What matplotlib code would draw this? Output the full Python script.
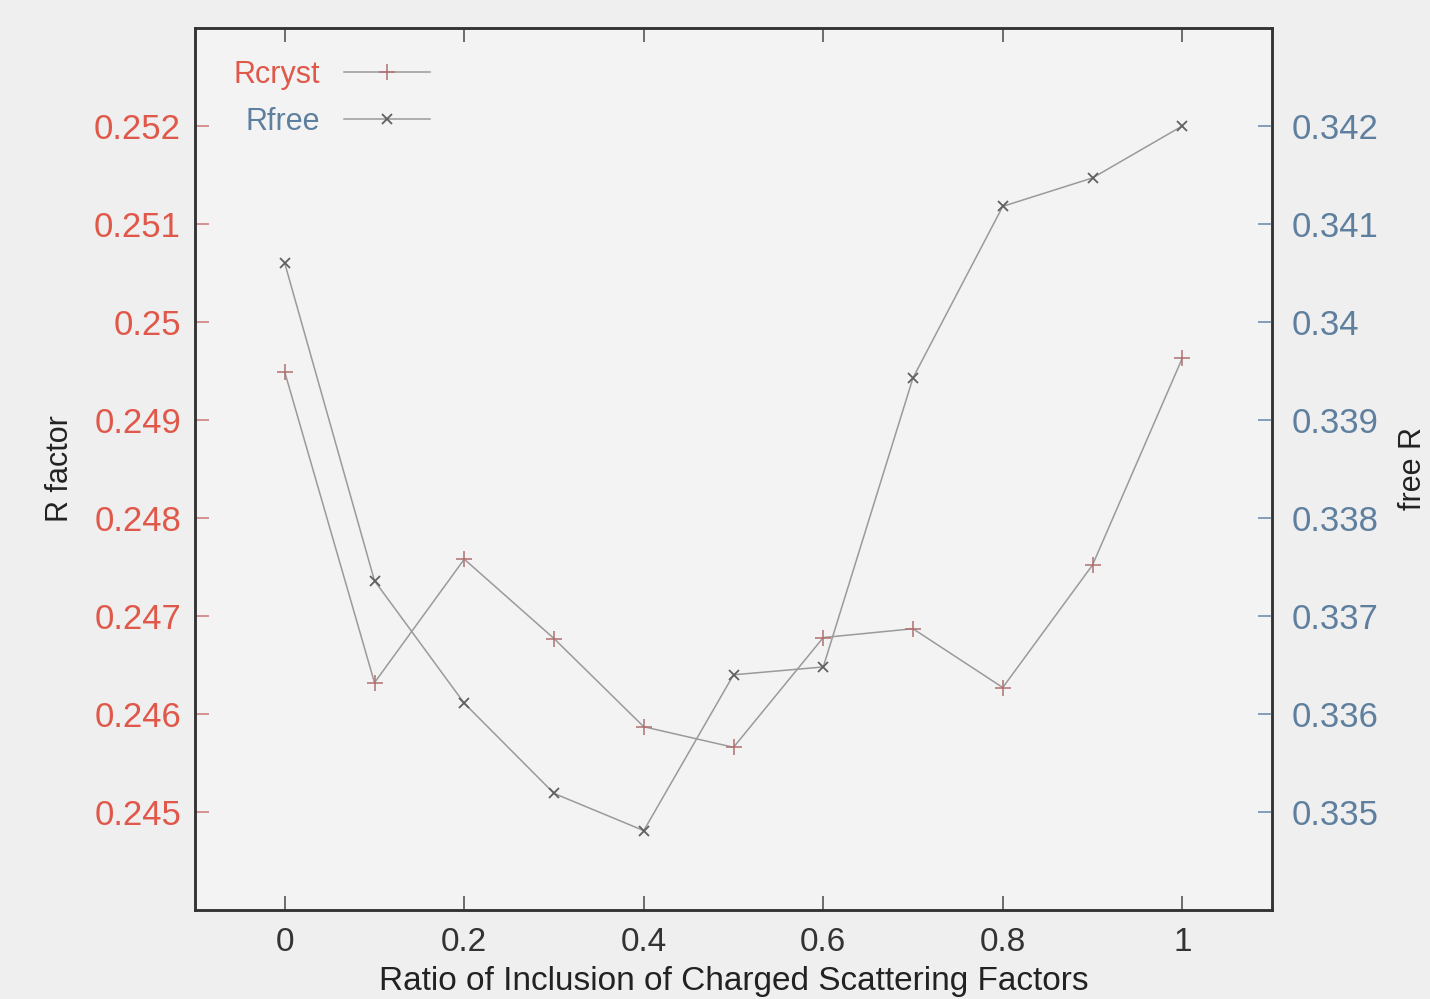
import matplotlib
matplotlib.use("Agg")
import matplotlib.pyplot as plt

# ---- data ----
ratio = [0.0, 0.1, 0.2, 0.3, 0.4, 0.5, 0.6, 0.7, 0.8, 0.9, 1.0]
rcryst = [0.24949, 0.24632, 0.24758, 0.24677, 0.24587, 0.24566,
          0.24678, 0.24687, 0.24627, 0.24752, 0.24963]
rfree = [0.34060, 0.33736, 0.33611, 0.33519, 0.33481, 0.33640,
         0.33648, 0.33943, 0.34118, 0.34147, 0.34200]
xticks = [0, 0.2, 0.4, 0.6, 0.8, 1.0]
xtick_labels = ["0", "0.2", "0.4", "0.6", "0.8", "1"]
left_ticks = [0.245, 0.246, 0.247, 0.248, 0.249, 0.25, 0.251, 0.252]
left_labels = ["0.245", "0.246", "0.247", "0.248", "0.249", "0.25", "0.251", "0.252"]
right_ticks = [0.335, 0.336, 0.337, 0.338, 0.339, 0.34, 0.341, 0.342]
right_labels = ["0.335", "0.336", "0.337", "0.338", "0.339", "0.34", "0.341", "0.342"]

plt.rcParams['font.family'] = ['Liberation Sans', 'DejaVu Sans']

red = "#e0584a"
blue = "#5f7f9f"
line_col = "#9a9a9a"

fig = plt.figure(figsize=(14.3, 9.99), dpi=100, facecolor="#efefef")
ax = fig.add_axes([195/1430, 1-910/999, (1272-195)/1430, (910-28)/999])
ax.set_facecolor("#f3f3f3")
ax2 = ax.twinx()

l1, = ax.plot(ratio, rcryst, color=line_col, lw=1.1, marker='+', ms=11,
              mew=1.1, mec="#b07070", label="Rcryst")
l2, = ax2.plot(ratio, rfree, color=line_col, lw=1.1, marker='x', ms=7,
               mew=1.3, mec="#606060", label="Rfree")

ax.set_xlim(-0.1, 1.1)
ax.set_ylim(0.244, 0.253)
ax2.set_ylim(0.334, 0.343)

ax.set_xticks(xticks)
ax.set_xticklabels(xtick_labels, fontsize=24, color="#333333")
ax.set_yticks(left_ticks)
ax.set_yticklabels(left_labels, fontsize=25, color=red)
ax2.set_yticks(right_ticks)
ax2.set_yticklabels(right_labels, fontsize=25, color=blue)

ax.tick_params(axis='x', direction='in', length=10, width=1.2, top=True, pad=12, color="#555555")
ax.tick_params(axis='y', direction='in', length=10, width=1.2, pad=10, color="#d08080")
ax2.tick_params(axis='y', direction='in', length=10, width=1.2, pad=14, color="#7090b0")

for a in (ax, ax2):
    for s in a.spines.values():
        s.set_color("#333333")
        s.set_linewidth(1.8)

ax.set_xlabel("Ratio of Inclusion of Charged Scattering Factors", fontsize=24,
              color="#222222", labelpad=6)
ax.set_ylabel("R factor", fontsize=22, color="#222222", labelpad=14)
ax2.set_ylabel("free R", fontsize=22, color="#222222", labelpad=14)

leg = ax.legend(handles=[l1, l2], loc='upper left', bbox_to_anchor=(0.01, 0.995),
                frameon=False, markerfirst=False, fontsize=22, handlelength=2.8,
                labelspacing=0.55, handletextpad=0.8)
for t, c in zip(leg.get_texts(), [red, blue]):
    t.set_color(c)

fig.savefig("out.png", dpi=100, facecolor=fig.get_facecolor())
